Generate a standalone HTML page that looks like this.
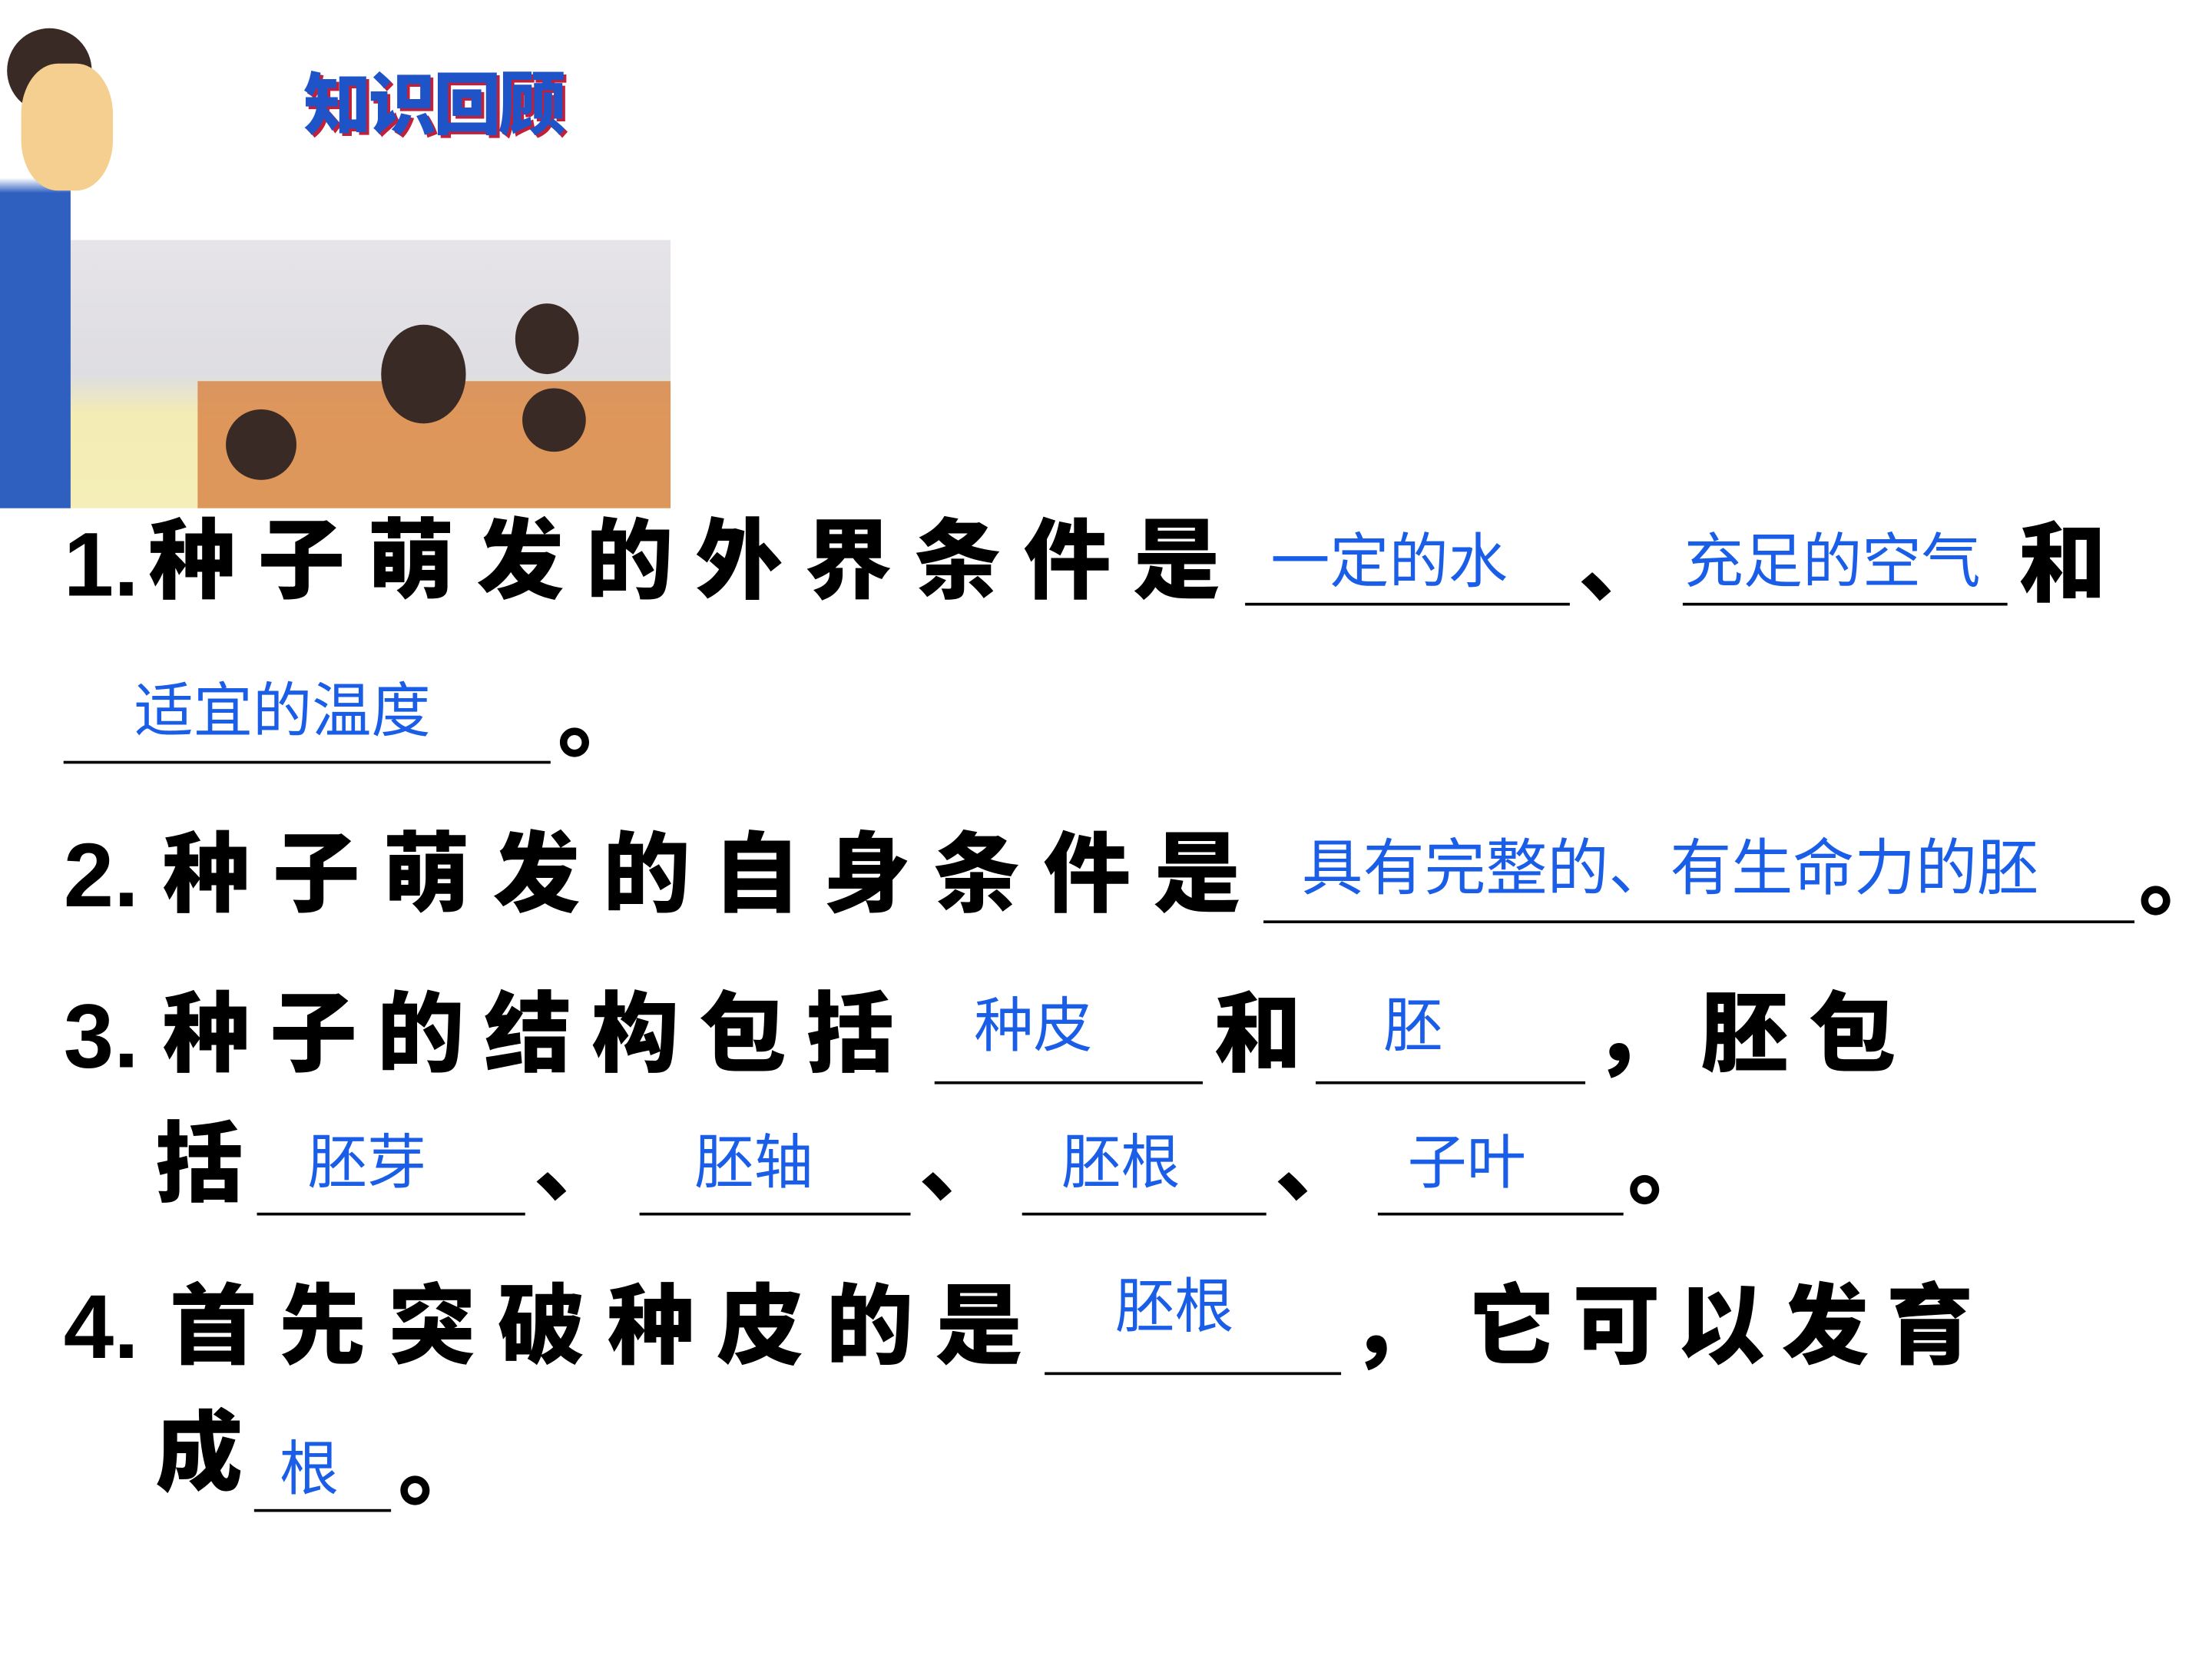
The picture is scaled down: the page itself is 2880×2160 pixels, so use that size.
<!DOCTYPE html>
<html><head><meta charset="utf-8"><style>
html,body{margin:0;padding:0;background:#fff;width:2880px;height:2160px;overflow:hidden}
#w{position:absolute;left:0;top:0;width:1545px;height:1159px;transform:scale(1.838);transform-origin:0 0}
.k{position:absolute;font-family:"Liberation Sans","Noto Sans CJK SC",sans-serif;font-weight:900;color:#000;font-size:62px;line-height:1;white-space:nowrap}
.b{position:absolute;font-family:"Liberation Sans","Noto Sans CJK SC",sans-serif;color:#1a5ee8;font-size:42px;line-height:1;white-space:nowrap}
.u{position:absolute;height:2px;background:#000}
.n{position:absolute;font-family:"Liberation Sans",sans-serif;font-weight:bold;font-size:64px;line-height:1;color:#000}
</style></head><body><div id="w">
<div style="position:absolute;left:0;top:170px;width:475px;height:190px;background:linear-gradient(#e6e4e8,#dedde2 50%,#f3ecb4 65%,#f5eeb8)"></div>
<div style="position:absolute;left:140px;top:270px;width:335px;height:90px;background:#d9874a;opacity:.85"></div>
<div style="position:absolute;left:270px;top:230px;width:60px;height:70px;border-radius:50%;background:#3a2a25"></div>
<div style="position:absolute;left:365px;top:215px;width:45px;height:50px;border-radius:50%;background:#3a2a25"></div>
<div style="position:absolute;left:160px;top:290px;width:50px;height:50px;border-radius:50%;background:#3a2a25"></div>
<div style="position:absolute;left:370px;top:275px;width:45px;height:45px;border-radius:50%;background:#3a2a25"></div>
<div style="position:absolute;left:0;top:0;width:50px;height:360px;background:linear-gradient(#fff 20%,#fff 35%,#2f5fbf 38%,#2f5fbf 100%)"></div>
<div style="position:absolute;left:5px;top:20px;width:60px;height:60px;border-radius:50%;background:#3a2a25"></div>
<div style="position:absolute;left:15px;top:45px;width:65px;height:90px;border-radius:40%;background:#f4cf8f"></div>
<div class="k" style="left:215px;top:52px;font-size:48px;color:#1f53c8;text-shadow:2px 2px 0 #c0203a;letter-spacing:-2px">知识回顾</div>

<div class="n" style="left:45px;top:368px">1.</div>
<div class="k" style="left:105px;top:368px;letter-spacing:15.5px">种子萌发的外界条件是</div>
<div class="b" style="left:900px;top:377px">一定的水</div>
<div class="u" style="left:882px;top:427px;width:230px"></div>
<div class="k" style="left:1118px;top:370px">、</div>
<div class="b" style="left:1193px;top:377px">充足的空气</div>
<div class="u" style="left:1192px;top:427px;width:230px"></div>
<div class="k" style="left:1430px;top:370px">和</div>
<div class="b" style="left:95px;top:483px">适宜的温度</div>
<div class="u" style="left:45px;top:539px;width:345px"></div>
<div class="k" style="left:395px;top:480px">。</div>

<div class="n" style="left:45px;top:588px">2.</div>
<div class="k" style="left:115px;top:590px;letter-spacing:16px">种子萌发的自身条件是</div>
<div class="b" style="left:922px;top:595px;font-size:43.5px">具有完整的、有生命力的胚</div>
<div class="u" style="left:895px;top:652px;width:617px"></div>
<div class="k" style="left:1515px;top:592px">。</div>

<div class="n" style="left:45px;top:702px">3.</div>
<div class="k" style="left:115px;top:703px;letter-spacing:14px">种子的结构包括</div>
<div class="b" style="left:690px;top:706px">种皮</div>
<div class="u" style="left:662px;top:766px;width:190px"></div>
<div class="k" style="left:860px;top:703px">和</div>
<div class="b" style="left:980px;top:706px">胚</div>
<div class="u" style="left:932px;top:766px;width:191px"></div>
<div class="k" style="left:1128px;top:703px">，</div>
<div class="k" style="left:1205px;top:703px;letter-spacing:14px">胚包</div>
<div class="k" style="left:110px;top:795px">括</div>
<div class="b" style="left:218px;top:803px">胚芽</div>
<div class="u" style="left:182px;top:859px;width:190px"></div>
<div class="k" style="left:378px;top:795px">、</div>
<div class="b" style="left:492px;top:803px">胚轴</div>
<div class="u" style="left:453px;top:859px;width:192px"></div>
<div class="k" style="left:651px;top:795px">、</div>
<div class="b" style="left:752px;top:803px">胚根</div>
<div class="u" style="left:724px;top:859px;width:173px"></div>
<div class="k" style="left:903px;top:795px">、</div>
<div class="b" style="left:997px;top:803px">子叶</div>
<div class="u" style="left:976px;top:859px;width:174px"></div>
<div class="k" style="left:1153px;top:797px">。</div>

<div class="n" style="left:45px;top:908px">4.</div>
<div class="k" style="left:120px;top:910px;letter-spacing:15.5px">首先突破种皮的是</div>
<div class="b" style="left:790px;top:905px">胚根</div>
<div class="u" style="left:740px;top:972px;width:210px"></div>
<div class="k" style="left:956px;top:910px">，</div>
<div class="k" style="left:1040px;top:910px;letter-spacing:12px">它可以发育</div>
<div class="k" style="left:110px;top:1000px">成</div>
<div class="b" style="left:198px;top:1020px">根</div>
<div class="u" style="left:180px;top:1069px;width:97px"></div>
<div class="k" style="left:282px;top:1010px">。</div>
</div></body></html>
